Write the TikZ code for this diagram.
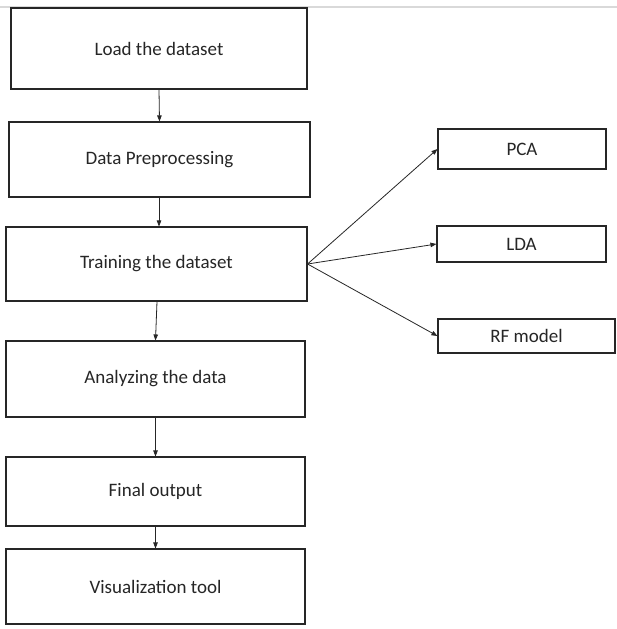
\documentclass[tikz,border=0pt]{standalone}
\usepackage{fontspec}
\setmainfont{Carlito}
\usetikzlibrary{arrows.meta}
\begin{document}
\begin{tikzpicture}[x=1pt,y=-1pt,
  box/.style={draw=black!85, line width=1.1pt, inner sep=0pt, font=\fontsize{19}{22}\selectfont, text=black!85},
  conn/.style={line width=0.8pt, draw=black!85, -{Triangle[length=6pt,width=4.5pt]}}]
\useasboundingbox (0,0) rectangle (617,629);
\fill[white] (0,0) rectangle (617,629);
\draw[black!15, line width=1.5pt] (0,7) -- (617,7);
\node[box, minimum width=296pt, minimum height=81pt] (b1) at (159,48.5) {Load the dataset};
\node[box, minimum width=301pt, minimum height=75pt] (b2) at (159.5,159.5) {Data Preprocessing};
\node[box, minimum width=301pt, minimum height=74pt] (b3) at (156.5,264) {Training the dataset};
\node[box, minimum width=299pt, minimum height=76pt] (b4) at (155.5,379) {Analyzing the data};
\node[box, minimum width=299pt, minimum height=69pt] (b5) at (155.5,491.5) {Final output};
\node[box, minimum width=299pt, minimum height=75pt] (b6) at (155.5,586.5) {Visualization tool};
\node[box, minimum width=168pt, minimum height=40pt] (pca) at (522,149) {PCA};
\node[box, minimum width=169pt, minimum height=36pt] (lda) at (521.5,244) {LDA};
\node[box, minimum width=177pt, minimum height=34pt] (rf) at (526.5,336) {RF model};
\draw[conn] (b1.south) -- (b2.north);
\draw[conn] (b2.south -| b1.south) -- (b3.north -| b1.south);
\draw[conn] ([xshift=0.5pt]b3.south) -- (b4.north);
\draw[conn] (b4.south) -- (b5.north);
\draw[conn] (b5.south) -- (b6.north);
\draw[conn] (b3.east) -- (pca.west);
\draw[conn] (b3.east) -- (lda.west);
\draw[conn] (b3.east) -- (rf.west);
\end{tikzpicture}
\end{document}
